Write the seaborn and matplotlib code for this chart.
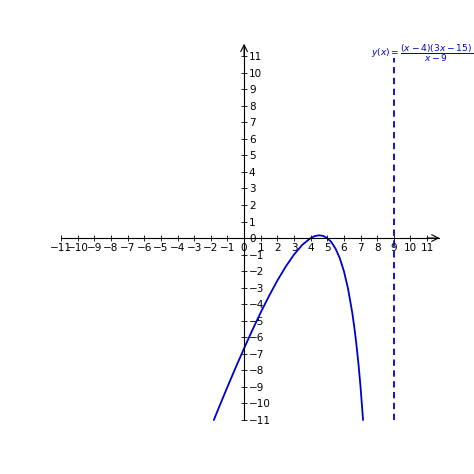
import numpy as np
import pandas as pd
import matplotlib
matplotlib.use("Agg")
import matplotlib.pyplot as plt
import seaborn as sns

x_vals = [-1.818, -1.5, -1.0, -0.5, 0.0, 0.5, 1.0, 1.5, 2.0, 2.5, 3.0, 3.5, 4.0,
          4.25, 4.5, 4.75, 5.0, 5.25, 5.5, 5.75, 6.0, 6.25, 6.5, 6.625, 6.75,
          6.875, 7.0, 7.151]
y_vals = [-11.0, -10.214, -9.0, -7.816, -6.667, -5.559, -4.5, -3.5, -2.571,
          -1.731, -1.0, -0.409, 0.0, 0.118, 0.167, 0.132, 0.0, -0.25, -0.643,
          -1.212, -2.0, -3.068, -4.5, -5.388, -6.417, -7.610, -9.0, -11.0]
asym_x = [9, 9]
asym_y = [-11, 10.9]
ticks = list(range(-11, 12))
label = r"$y(x) = \dfrac{(x-4)(3x-15)}{x-9}$"

sns.set_theme(style="white")
plt.rcParams['font.family'] = ['DejaVu Sans']
plt.rcParams['mathtext.fontset'] = 'dejavusans'

fig = plt.figure(figsize=(4.74, 4.74), dpi=100)
ax = fig.add_axes([0.0937, 0.079, 0.86, 0.855])

df = pd.DataFrame({"x": x_vals, "y": y_vals})
sns.lineplot(data=df, x="x", y="y", ax=ax, color="mediumblue", lw=1.3,
             sort=False, estimator=None)
ax.plot(asym_x, asym_y, color="mediumblue", lw=1.3, ls=(0, (3.5, 2.5)))

ax.set_xlim(-12, 12.5)
ax.set_ylim(-12, 12.5)
ax.set_xlabel("")
ax.set_ylabel("")

# axes through the origin
ax.spines['right'].set_position('zero')
ax.spines['bottom'].set_position('zero')
ax.spines['left'].set_visible(False)
ax.spines['top'].set_visible(False)
for s in ['right', 'bottom']:
    ax.spines[s].set_color('black')
    ax.spines[s].set_linewidth(0.8)
ax.spines['bottom'].set_bounds(-11, 11.7)
ax.spines['right'].set_bounds(-11, 11.7)
ax.yaxis.set_ticks_position('right')
ax.xaxis.set_ticks_position('bottom')

ax.set_xticks(ticks)
ax.set_yticks(ticks)
ax.set_xticklabels([str(t).replace('-', '\u2212') for t in ticks])
ax.set_yticklabels([str(t).replace('-', '\u2212') for t in ticks])
ax.tick_params(axis='both', direction='inout', length=4, width=0.6,
               labelsize=7.5, colors='black', pad=1.5)

arrow = dict(arrowstyle='->', color='black', lw=0.8, shrinkA=0, shrinkB=0,
             mutation_scale=12)
ax.annotate('', xy=(11.75, 0), xytext=(11.0, 0), arrowprops=arrow)
ax.annotate('', xy=(0, 11.75), xytext=(0, 11.0), arrowprops=arrow)

ax.text(10.72, 11.2, label, color="mediumblue", fontsize=6.6,
        ha='center', va='center')

fig.savefig("out.png", dpi=100)
